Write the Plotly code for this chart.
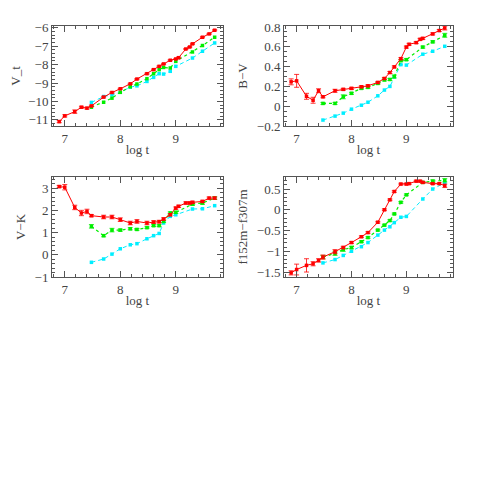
import plotly.graph_objs as go

# log t grid
logt_red = [6.9, 7.0, 7.18, 7.3, 7.4, 7.48, 7.7, 7.85, 8.0, 8.18, 8.3, 8.48, 8.6, 8.7, 8.78,
            8.9, 9.0, 9.05, 9.18, 9.25, 9.3, 9.48, 9.6, 9.7]
logt_sub = [7.48, 7.7, 7.85, 8.0, 8.18, 8.3, 8.48, 8.6, 8.7, 8.78, 8.9, 9.0, 9.3, 9.48, 9.7]

# V_t
vt_red = [-11.09, -10.78, -10.55, -10.31, -10.36, -10.24, -9.76, -9.51, -9.31, -9.04, -8.78, -8.49,
          -8.27, -8.09, -7.96, -7.76, -7.69, -7.62, -7.15, -7.04, -6.87, -6.51, -6.33, -6.13]
vt_red_err = [0.06, 0.06, 0.09, 0.05, 0.05, 0.04, 0.04, 0.03, 0.03, 0.03, 0.03, 0.03,
              0.03, 0.03, 0.03, 0.03, 0.03, 0.03, 0.03, 0.03, 0.03, 0.03, 0.03, 0.03]
vt_green = [-10.31, -10.04, -9.82, -9.5, -9.2, -9.05, -8.76, -8.49, -8.27, -8.15, -8.18, -7.82,
            -7.31, -6.96, -6.51]
vt_cyan = [-10.05, -9.73, -9.64, -9.5, -9.22, -9.15, -8.91, -8.69, -8.49, -8.51, -8.36, -8.09,
           -7.64, -7.27, -6.82]

# B-V
bv_red = [0.246, 0.256, 0.10, 0.06, 0.156, 0.095, 0.156, 0.17, 0.18, 0.196, 0.206, 0.24,
          0.28, 0.34, 0.397, 0.48, 0.597, 0.625, 0.642, 0.675, 0.685, 0.73, 0.764, 0.79]
bv_red_err = [0.03, 0.065, 0.03, 0.03, 0.02, 0.01, 0.015, 0.01, 0.01, 0.01, 0.01, 0.01,
              0.01, 0.01, 0.01, 0.01, 0.01, 0.01, 0.01, 0.01, 0.01, 0.01, 0.01, 0.02]
bv_green = [0.028, 0.028, 0.095, 0.13, 0.18, 0.19, 0.23, 0.265, 0.27, 0.30, 0.46, 0.47,
            0.597, 0.65, 0.716]
bv_green_err = [0.01, 0.01, 0.02, 0.01, 0.01, 0.01, 0.01, 0.01, 0.01, 0.015, 0.01, 0.01,
                0.01, 0.01, 0.02]
bv_cyan = [-0.14, -0.10, -0.07, -0.03, 0.01, 0.04, 0.105, 0.163, 0.20, 0.295, 0.42, 0.415,
           0.525, 0.555, 0.605]

# V-K
vk_red = [3.07, 3.04, 2.13, 1.88, 1.95, 1.76, 1.70, 1.70, 1.58, 1.43, 1.50, 1.43,
          1.47, 1.49, 1.61, 1.80, 2.10, 2.18, 2.33, 2.33, 2.36, 2.40, 2.55, 2.55]
vk_red_err = [0.05, 0.12, 0.1, 0.12, 0.1, 0.05, 0.08, 0.08, 0.08, 0.08, 0.08, 0.08,
              0.06, 0.06, 0.05, 0.05, 0.05, 0.05, 0.05, 0.05, 0.05, 0.05, 0.05, 0.05]
vk_green = [1.28, 0.86, 1.11, 1.11, 1.17, 1.14, 1.22, 1.31, 1.31, 1.50, 1.88, 1.91,
            2.28, 2.33, 2.55]
vk_green_err = [0.08, 0.05, 0.08, 0.05, 0.05, 0.04, 0.04, 0.04, 0.04, 0.05, 0.05, 0.05,
                0.06, 0.06, 0.06]
vk_cyan = [-0.34, -0.19, 0.03, 0.27, 0.45, 0.50, 0.72, 0.86, 0.96, 1.43, 1.73, 1.80,
           2.06, 2.07, 2.21]

# f152m-f307m
fc_red = [-1.52, -1.44, -1.34, -1.30, -1.22, -1.14, -1.01, -0.91, -0.79, -0.65, -0.55, -0.30,
          0.0, 0.24, 0.44, 0.62, 0.62, 0.63, 0.69, 0.69, 0.66, 0.63, 0.63, 0.58]
fc_red_err = [0.05, 0.13, 0.16, 0.05, 0.04, 0.05, 0.05, 0.03, 0.02, 0.02, 0.02, 0.02,
              0.02, 0.02, 0.02, 0.02, 0.02, 0.02, 0.02, 0.02, 0.02, 0.02, 0.02, 0.04]
fc_green = [-1.14, -1.05, -0.96, -0.91, -0.77, -0.67, -0.49, -0.37, -0.26, -0.10, 0.18, 0.36,
            0.66, 0.69, 0.71]
fc_green_err = [0.04, 0.05, 0.04, 0.03, 0.02, 0.02, 0.02, 0.02, 0.02, 0.02, 0.02, 0.02,
                0.02, 0.03, 0.04]
fc_cyan = [-1.28, -1.20, -1.10, -1.0, -0.89, -0.79, -0.61, -0.49, -0.41, -0.31, -0.18, -0.16,
           0.26, 0.50, 0.65]

RED, GREEN, CYAN = "#ff0000", "#00ee00", "#00eeff"

panels = [
    # (suffix, red, red_err, green, green_err, cyan, ylabel, yrange, dtick, minor)
    ("", vt_red, vt_red_err, vt_green, None, vt_cyan, "V_t", [-11.33, -5.9], 1, 0.2),
    ("2", bv_red, bv_red_err, bv_green, bv_green_err, bv_cyan, "B\u2212V", [-0.2, 0.81], 0.2, 0.05),
    ("3", vk_red, vk_red_err, vk_green, vk_green_err, vk_cyan, "V\u2212K", [-1, 3.5], 1, 0.2),
    ("4", fc_red, fc_red_err, fc_green, fc_green_err, fc_cyan, "f152m\u2212f307m", [-1.62, 0.79], 0.5, 0.1),
]

# page offset (body margin) compensation
OX, OY = 8, 8
xdom = [[(52-OX)/480, (223-OX)/480], [(284-OX)/480, (453-OX)/480]]
ydom = [[1-(126-OY)/480, 1-(26-OY)/480], [1-(277-OY)/480, 1-(177-OY)/480]]

fig = go.Figure()
axfont = dict(family="Liberation Serif", size=13, color="#444")

for i, (s, r, re, g, ge, c, ylab, yr, dt, mn) in enumerate(panels):
    xa, ya = "x" + s, "y" + s
    fig.add_scatter(x=logt_sub, y=c, xaxis=xa, yaxis=ya, mode="lines+markers",
                    line=dict(color=CYAN, width=1, dash="4px,3px"),
                    marker=dict(size=3.5, symbol="square", color=CYAN))
    fig.add_scatter(x=logt_sub, y=g, xaxis=xa, yaxis=ya, mode="lines+markers",
                    line=dict(color=GREEN, width=1.2, dash="dot"),
                    marker=dict(size=3.5, symbol="square", color=GREEN),
                    error_y=dict(type="data", array=ge, color=GREEN, thickness=0.8, width=2.5,
                                 visible=ge is not None))
    fig.add_scatter(x=logt_red, y=r, xaxis=xa, yaxis=ya, mode="lines+markers",
                    line=dict(color=RED, width=1),
                    marker=dict(size=3.5, symbol="square", color=RED),
                    error_y=dict(type="data", array=re, color=RED, thickness=0.8, width=2.5))

    common = dict(showline=True, linecolor="#555", linewidth=1, mirror="allticks",
                  ticks="inside", ticklen=6, tickcolor="#555", showgrid=False, zeroline=False,
                  tickfont=axfont, title_font=axfont, automargin=False)
    fig.update_layout(**{
        "xaxis" + s: dict(domain=xdom[i % 2], anchor=ya, range=[6.77, 9.85], dtick=1, tick0=0,
                          title=dict(text="log t", standoff=0),
                          minor=dict(dtick=0.2, ticks="inside", ticklen=3, tickcolor="#555"),
                          **common),
        "yaxis" + s: dict(domain=ydom[i // 2], anchor=xa, range=yr, dtick=dt, tick0=0,
                          title=dict(text=ylab, standoff=6),
                          minor=dict(dtick=mn, ticks="inside", ticklen=3, tickcolor="#555"),
                          **common),
    })

fig.update_layout(width=480, height=480, showlegend=False, plot_bgcolor="white",
                  paper_bgcolor="white", margin=dict(l=0, r=0, t=0, b=0))
fig.write_html("out.html")
